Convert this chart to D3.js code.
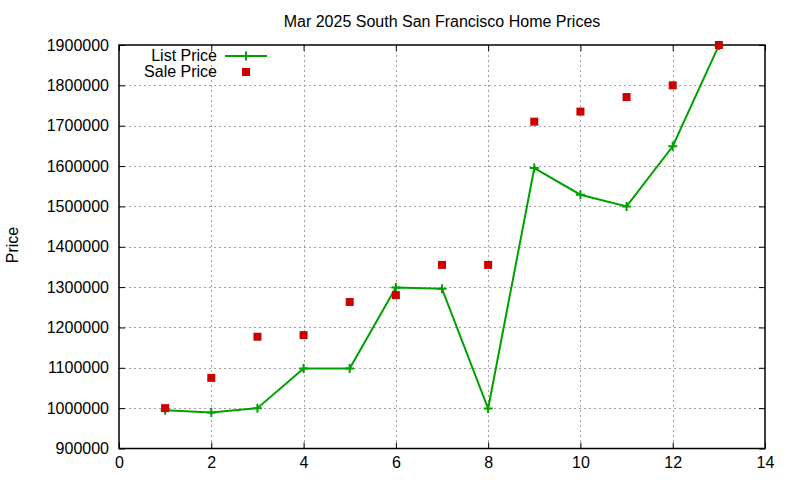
<!DOCTYPE html>
<html>
<head>
<meta charset="utf-8">
<script src="https://cdn.jsdelivr.net/npm/d3@7"></script>
<style>
  body { margin: 0; background: #fff; }
  svg { display: block; font-family: "Liberation Sans", Arial, sans-serif; }
</style>
</head>
<body>
<div id="chart"></div>
<script>
// Home price data
const months = [1, 2, 3, 4, 5, 6, 7, 8, 9, 10, 11, 12, 13];
const listPrice = [995000, 989000, 1000000, 1098000, 1098000, 1299000, 1296000, 999000, 1595000, 1529000, 1500000, 1649000, 1899000];
const salePrice = [1000000, 1075000, 1177000, 1181000, 1263000, 1280000, 1355000, 1355000, 1710000, 1735000, 1771000, 1800000, 1900000];
const xTicks = [0, 2, 4, 6, 8, 10, 12, 14];
const yTicks = [900000, 1000000, 1100000, 1200000, 1300000, 1400000, 1500000, 1600000, 1700000, 1800000, 1900000];

const width = 800, height = 480;
const plotLeft = 119, plotRight = 765, plotTop = 45, plotBottom = 448.5;

const green = "#00a000";
const red = "#cc0000";

const svg = d3.select("#chart")
  .append("svg")
  .attr("width", width)
  .attr("height", height);

const x = d3.scaleLinear().domain([0, 14]).range([plotLeft, plotRight]);
const y = d3.scaleLinear().domain([900000, 1900000]).range([plotBottom, plotTop]);

// Grid
const grid = svg.append("g")
  .attr("stroke", "#a0a0a0")
  .attr("stroke-width", 1)
  .attr("stroke-dasharray", "2,3");

grid.selectAll("line.gx")
  .data(xTicks.slice(1, -1))
  .join("line")
  .attr("x1", d => Math.round(x(d)) + 0.5)
  .attr("x2", d => Math.round(x(d)) + 0.5)
  .attr("y1", plotTop)
  .attr("y2", plotBottom);

grid.selectAll("line.gy")
  .data(yTicks.slice(1, -1))
  .join("line")
  .attr("x1", plotLeft)
  .attr("x2", plotRight)
  .attr("y1", d => Math.round(y(d)) + 0.5)
  .attr("y2", d => Math.round(y(d)) + 0.5);

// Axes (gnuplot style with mirrored inward ticks)
const tickLen = 6;
const fontSize = 16;

const xBottom = svg.append("g")
  .attr("transform", `translate(0,${plotBottom})`)
  .call(d3.axisBottom(x).tickValues(xTicks).tickSizeInner(-tickLen).tickSizeOuter(0).tickPadding(8));
const xTop = svg.append("g")
  .attr("transform", `translate(0,${plotTop})`)
  .call(d3.axisTop(x).tickValues(xTicks).tickSizeInner(-tickLen).tickSizeOuter(0).tickFormat(""));
const yLeft = svg.append("g")
  .attr("transform", `translate(${plotLeft},0)`)
  .call(d3.axisLeft(y).tickValues(yTicks).tickSizeInner(-tickLen).tickSizeOuter(0).tickPadding(10).tickFormat(d3.format("d")));
const yRight = svg.append("g")
  .attr("transform", `translate(${plotRight},0)`)
  .call(d3.axisRight(y).tickValues(yTicks).tickSizeInner(-tickLen).tickSizeOuter(0).tickFormat(""));

[xBottom, xTop, yLeft, yRight].forEach(g => {
  g.select(".domain").remove();
  g.selectAll(".tick line").attr("stroke", "#000");
  g.selectAll("text")
    .attr("font-family", "'Liberation Sans', Arial, sans-serif")
    .attr("font-size", fontSize)
    .attr("fill", "#000");
});

// Border
svg.append("rect")
  .attr("x", plotLeft)
  .attr("y", plotTop)
  .attr("width", plotRight - plotLeft)
  .attr("height", plotBottom - plotTop)
  .attr("fill", "none")
  .attr("stroke", "#000")
  .attr("stroke-width", 1.5);

// List price line
const line = d3.line()
  .x((d, i) => x(months[i]))
  .y(d => y(d));

svg.append("path")
  .datum(listPrice)
  .attr("d", line)
  .attr("fill", "none")
  .attr("stroke", green)
  .attr("stroke-width", 2);

const plus = 4.5;
svg.append("g")
  .selectAll("path")
  .data(listPrice)
  .join("path")
  .attr("d", (d, i) => {
    const cx = x(months[i]), cy = y(d);
    return `M${cx - plus},${cy}H${cx + plus}M${cx},${cy - plus}V${cy + plus}`;
  })
  .attr("stroke", green)
  .attr("stroke-width", 2);

// Sale price squares
const sq = 8;
svg.append("g")
  .selectAll("rect")
  .data(salePrice)
  .join("rect")
  .attr("x", (d, i) => x(months[i]) - sq / 2)
  .attr("y", d => y(d) - sq / 2)
  .attr("width", sq)
  .attr("height", sq)
  .attr("fill", red);

// Title
svg.append("text")
  .attr("x", (plotLeft + plotRight) / 2)
  .attr("y", 27)
  .attr("text-anchor", "middle")
  .attr("font-size", fontSize)
  .text("Mar 2025 South San Francisco Home Prices");

// Y label
svg.append("text")
  .attr("transform", "translate(18,245) rotate(-90)")
  .attr("text-anchor", "middle")
  .attr("font-size", fontSize)
  .text("Price");

// Legend
const legend = svg.append("g");
legend.append("text")
  .attr("x", 217)
  .attr("y", 61)
  .attr("text-anchor", "end")
  .attr("font-size", fontSize)
  .text("List Price");
legend.append("line")
  .attr("x1", 225).attr("x2", 267)
  .attr("y1", 56).attr("y2", 56)
  .attr("stroke", green)
  .attr("stroke-width", 2);
legend.append("path")
  .attr("d", `M${246 - plus},56H${246 + plus}M246,${56 - plus}V${56 + plus}`)
  .attr("stroke", green)
  .attr("stroke-width", 2);
legend.append("text")
  .attr("x", 217)
  .attr("y", 77)
  .attr("text-anchor", "end")
  .attr("font-size", fontSize)
  .text("Sale Price");
legend.append("rect")
  .attr("x", 246 - sq / 2)
  .attr("y", 72 - sq / 2)
  .attr("width", sq)
  .attr("height", sq)
  .attr("fill", red);
</script>
</body>
</html>
